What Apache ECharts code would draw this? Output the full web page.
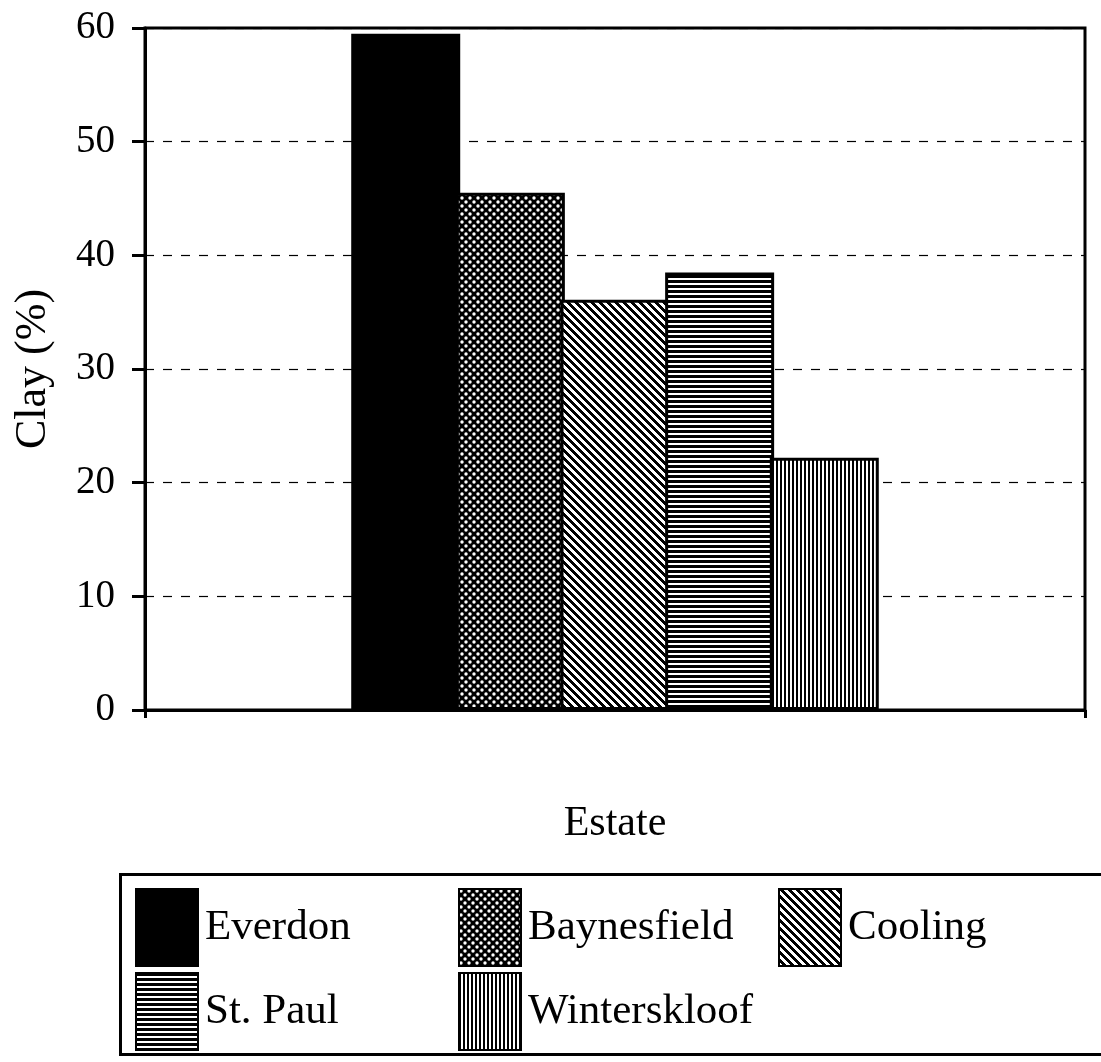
<!DOCTYPE html>
<html><head><meta charset="utf-8">
<script src="https://cdn.jsdelivr.net/npm/echarts@6/dist/echarts.min.js"></script>
<style>html,body{margin:0;padding:0;background:#fff}#c{width:1101px;height:1062px}</style>
</head><body><div id="c"></div>
<script>
var estates = ['Everdon', 'Baynesfield', 'Cooling', 'St. Paul', 'Winterskloof'];
var clayValues = [59.5, 45.5, 36.1, 38.5, 22.2];
var yTicks = [0, 10, 20, 30, 40, 50, 60];

function tile(w, h, fn) {
  var c = document.createElement('canvas');
  c.width = w; c.height = h;
  var ctx = c.getContext('2d');
  var img = ctx.createImageData(w, h);
  for (var y = 0; y < h; y++) for (var x = 0; x < w; x++) {
    var v = fn(x, y) ? 0 : 255;
    var i = (y * w + x) * 4;
    img.data[i] = v; img.data[i+1] = v; img.data[i+2] = v; img.data[i+3] = 255;
  }
  ctx.putImageData(img, 0, 0);
  return { image: c, repeat: 'repeat' };
}
function dots() {
  var c = document.createElement('canvas');
  c.width = 8; c.height = 8;
  var ctx = c.getContext('2d');
  ctx.fillStyle = '#000'; ctx.fillRect(0, 0, 8, 8);
  ctx.fillStyle = '#fff';
  [[2,2],[6,6]].forEach(function(p){ ctx.beginPath(); ctx.arc(p[0], p[1], 1.7, 0, Math.PI*2); ctx.fill(); });
  return { image: c, repeat: 'repeat' };
}
var fills = [
  '#000',
  dots(),
  tile(8, 8, function(x, y){ return (((x - y) % 8) + 8) % 8 < 4; }),
  tile(4, 5, function(x, y){ return y < 3; }),
  tile(4, 4, function(x, y){ return x < 2; })
];

var font = "'Liberation Serif', 'Times New Roman', serif";
var series = estates.map(function(name, i){
  return {
    name: name, type: 'bar',
    data: [clayValues[i]],
    barWidth: 109, barGap: '-4%',
    itemStyle: { color: fills[i], borderColor: '#000', borderWidth: 3 }
  };
});

var chart = echarts.init(document.getElementById('c'));
chart.setOption({
  animation: false,
  backgroundColor: '#fff',
  grid: { left: 145, right: 16, top: 28, bottom: 352, show: true, borderColor: '#000', borderWidth: 3 },
  xAxis: {
    type: 'category', data: ['Estate'],
    name: 'Estate', nameLocation: 'middle', nameGap: 93,
    nameTextStyle: { fontFamily: font, fontSize: 42, color: '#000' },
    axisLine: { lineStyle: { color: '#000', width: 3 } },
    axisTick: { show: true, length: 8, lineStyle: { color: '#000', width: 3 } },
    axisLabel: { show: false }
  },
  yAxis: {
    type: 'value', min: yTicks[0], max: yTicks[yTicks.length-1], interval: 10,
    name: 'Clay (%)', nameLocation: 'middle', nameGap: 90,
    nameTextStyle: { fontFamily: font, fontSize: 44, color: '#000' },
    axisLine: { show: true, lineStyle: { color: '#000', width: 3 } },
    axisTick: { show: true, length: 13, lineStyle: { color: '#000', width: 3 } },
    axisLabel: { fontFamily: font, fontSize: 39, color: '#000', margin: 30 },
    splitLine: { show: true, lineStyle: { color: '#000', width: 1.2, type: [9, 9] } }
  },
  legend: [
    { data: [estates[0], estates[3]], left: 135, top: 888 },
    { data: [estates[1], estates[4]], left: 458, top: 888 },
    { data: [estates[2]], left: 778, top: 888 }
  ].map(function(l){
    return Object.assign(l, {
      orient: 'vertical', itemWidth: 62, itemHeight: 77, itemGap: 5,
      icon: 'rect', padding: 0,
      textStyle: { fontFamily: font, fontSize: 43, color: '#000', padding: [0,0,0,2] }
    });
  }),
  graphic: [{
    type: 'rect', left: 118, top: 872,
    shape: { width: 1010, height: 180 },
    style: { fill: 'none', stroke: '#000', lineWidth: 3 }
  }],
  series: series
});
</script></body></html>
